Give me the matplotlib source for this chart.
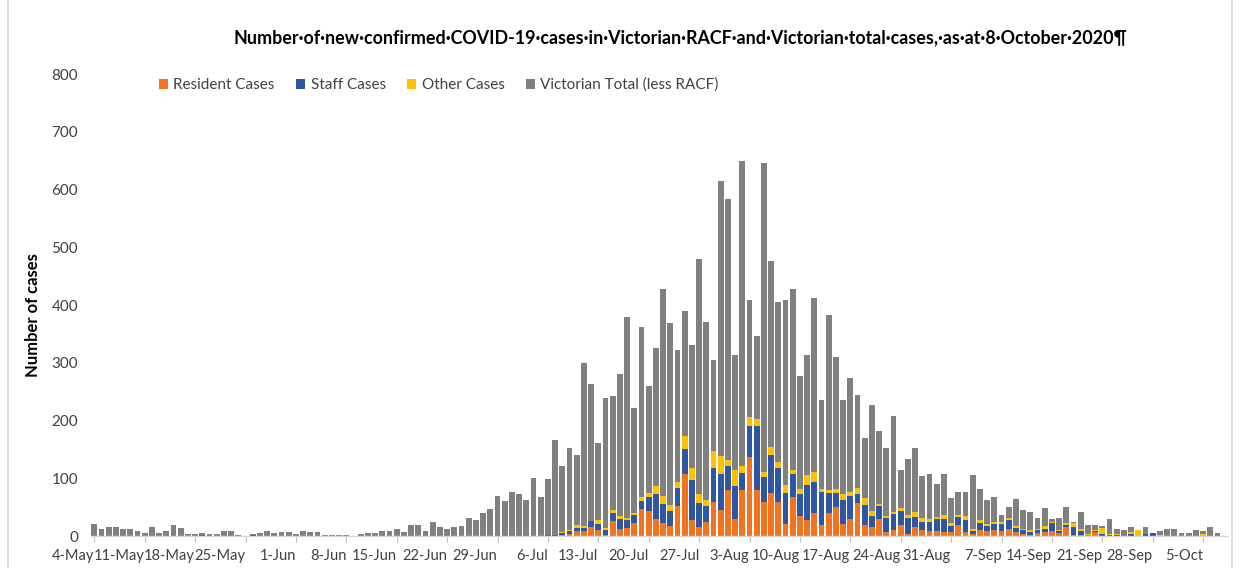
import numpy as np
import matplotlib
matplotlib.use("Agg")
import matplotlib.pyplot as plt
from matplotlib.patches import Patch
from matplotlib.lines import Line2D

plt.rcParams['font.family'] = ['Lato', 'DejaVu Sans']

# ---- data (4 May 2020 .. 8 Oct 2020, one value per day) ----
day_labels_shown = ["4-May", "11-May", "18-May", "25-May", "1-Jun", "8-Jun", "15-Jun",
                    "22-Jun", "29-Jun", "6-Jul", "13-Jul", "20-Jul", "27-Jul", "3-Aug",
                    "10-Aug", "17-Aug", "24-Aug", "31-Aug", "7-Sep", "14-Sep", "21-Sep",
                    "28-Sep", "5-Oct"]

resident_cases = [
    0, 0, 0, 0, 0, 0, 0,
    0, 0, 0, 0, 0, 0, 2,
    0, 0, 0, 0, 0, 0, 0,
    0, 0, 0, 0, 0, 0, 0,
    0, 0, 0, 0, 0, 0, 0,
    0, 0, 0, 0, 0, 0, 0,
    0, 0, 0, 1, 0, 0, 0,
    0, 0, 0, 0, 0, 0, 0,
    0, 0, 0, 0, 0, 0, 0,
    0, 0, 1, 4, 9, 9, 16,
    11, 2, 26, 12, 14, 23, 47,
    44, 30, 23, 17, 52, 108, 28,
    16, 25, 59, 45, 80, 30, 80,
    137, 80, 59, 74, 59, 20, 68,
    34, 28, 40, 19, 40, 50, 21,
    30, 57, 19, 16, 29, 7, 11,
    19, 4, 16, 10, 9, 9, 7,
    7, 19, 7, 4, 11, 8, 10,
    9, 13, 7, 4, 1, 5, 7,
    8, 5, 16, 1, 2, 1, 7,
    0, 0, 0, 0, 0, 0, 0,
    0, 0, 0, 0, 0, 0, 0,
    0, 0, 0, 0,
]

staff_cases = [
    0, 0, 0, 0, 0, 0, 0,
    0, 0, 0, 0, 0, 0, 0,
    0, 2, 0, 0, 0, 0, 0,
    0, 2, 0, 0, 0, 0, 0,
    0, 0, 0, 0, 0, 0, 0,
    0, 0, 0, 0, 0, 0, 0,
    0, 0, 0, 0, 0, 0, 0,
    0, 0, 0, 0, 0, 0, 0,
    0, 0, 0, 0, 0, 0, 0,
    2, 1, 4, 5, 5, 5, 10,
    10, 8, 14, 18, 14, 13, 14,
    24, 42, 32, 27, 32, 42, 69,
    42, 27, 58, 62, 42, 57, 29,
    53, 110, 43, 67, 59, 55, 40,
    39, 61, 53, 57, 34, 25, 42,
    39, 15, 35, 19, 23, 24, 27,
    25, 28, 17, 15, 16, 20, 23,
    10, 14, 20, 5, 12, 10, 10,
    12, 14, 7, 6, 6, 5, 6,
    14, 3, 3, 15, 7, 1, 1,
    4, 2, 1, 0, 3, 0, 3,
    5, 0, 0, 0, 0, 0, 0,
    0, 0, 0, 0,
]

other_cases = [
    0, 0, 0, 0, 0, 0, 0,
    0, 0, 0, 0, 0, 0, 0,
    0, 0, 0, 0, 0, 0, 0,
    0, 0, 0, 0, 0, 0, 0,
    0, 0, 0, 0, 0, 0, 0,
    0, 0, 0, 0, 0, 0, 0,
    0, 0, 0, 0, 0, 0, 0,
    0, 0, 0, 0, 0, 0, 0,
    0, 0, 0, 0, 0, 0, 0,
    0, 0, 2, 2, 5, 3, 0,
    7, 4, 5, 5, 4, 3, 7,
    7, 14, 14, 9, 10, 24, 20,
    14, 10, 30, 32, 9, 28, 12,
    16, 13, 9, 13, 10, 14, 7,
    9, 16, 17, 5, 6, 6, 9,
    7, 11, 12, 8, 3, 3, 4,
    4, 4, 9, 7, 5, 4, 6,
    6, 4, 7, 4, 5, 3, 4,
    4, 4, 3, 3, 3, 3, 4,
    3, 3, 4, 6, 4, 1, 3,
    10, 1, 2, 0, 4, 10, 0,
    0, 2, 0, 0, 0, 0, 0,
    4, 0, 0, 0,
]

victorian_total = [
    20, 13, 16, 15, 12, 12, 8,
    5, 16, 6, 9, 19, 14, 3,
    3, 6, 4, 4, 9, 9, 2,
    0, 4, 6, 9, 5, 7, 7,
    3, 9, 7, 7, 2, 2, 2,
    2, 0, 3, 5, 5, 8, 9,
    12, 7, 19, 19, 9, 25, 16,
    12, 16, 17, 32, 28, 39, 47,
    69, 61, 76, 72, 62, 100, 68,
    98, 166, 122, 153, 140, 300, 263,
    161, 239, 242, 280, 380, 221, 362,
    260, 326, 428, 369, 322, 390, 330,
    479, 370, 304, 614, 584, 313, 650,
    409, 347, 646, 476, 405, 408, 428,
    277, 314, 413, 235, 382, 310, 236,
    274, 245, 170, 227, 182, 152, 208,
    115, 133, 153, 104, 108, 90, 107,
    66, 77, 77, 106, 82, 63, 68,
    36, 51, 64, 45, 42, 31, 48,
    29, 32, 51, 25, 42, 19, 19,
    17, 30, 12, 10, 15, 10, 16,
    5, 8, 12, 12, 6, 6, 10,
    9, 15, 6, 0,
]

# ---- derived ----
res = np.array(resident_cases, dtype=float)
stf = np.array(staff_cases, dtype=float)
oth = np.array(other_cases, dtype=float)
tot = np.array(victorian_total, dtype=float)
rest = np.clip(tot - res - stf - oth, 0, None)
x = np.arange(len(tot))

C_RES = '#F47321'
C_STF = '#2E56A3'
C_OTH = '#FFC000'
C_VIC = '#808080'

fig = plt.figure(figsize=(12.39, 5.68), dpi=100)
ax = fig.add_axes([0.0732, 0.0563, 0.9182, 0.8134])

w = 0.8
ax.bar(x, res, width=w, color=C_RES, linewidth=0)
ax.bar(x, stf, width=w, bottom=res, color=C_STF, linewidth=0)
ax.bar(x, oth, width=w, bottom=res + stf, color=C_OTH, linewidth=0)
ax.bar(x, rest, width=w, bottom=res + stf + oth, color=C_VIC, linewidth=0)

ax.set_xlim(-0.5, len(tot) - 0.5)
ax.set_ylim(0, 800)
ax.set_yticks(np.arange(0, 801, 100))
ax.tick_params(axis='y', length=0, pad=9, labelsize=11, labelcolor='#404040')

tick_pos = np.arange(0, len(tot), 7)[:len(day_labels_shown)]
ax.set_xticks(tick_pos)
ax.set_xticklabels(day_labels_shown)
ax.tick_params(axis='x', length=4, width=0.8, color='#BFBFBF', pad=5,
               labelsize=10.5, labelcolor='#404040')
for lab in ax.get_xticklabels():
    lab.set_ha('right')

for s in ['top', 'right', 'left']:
    ax.spines[s].set_visible(False)
ax.spines['bottom'].set_color('#D9D9D9')
ax.spines['bottom'].set_linewidth(1.0)

fig.text(0.549, 0.933,
         "Number\u00b7of\u00b7new\u00b7confirmed\u00b7COVID-19\u00b7cases\u00b7in\u00b7Victorian\u00b7RACF\u00b7and\u00b7Victorian\u00b7total\u00b7cases,\u00b7as\u00b7at\u00b78\u00b7October\u00b72020\u00b6",
         ha='center', va='center', fontsize=12.9, fontweight='bold', color='#000000')

fig.text(0.027, 0.4454, "Number of cases", rotation=90, ha='center', va='center',
         fontsize=12, fontweight='bold', color='#000000')

handles = [Patch(facecolor=C_RES), Patch(facecolor=C_STF),
           Patch(facecolor=C_OTH), Patch(facecolor=C_VIC)]
labels = ["Resident Cases", "Staff Cases", "Other Cases", "Victorian Total (less RACF)"]
fig.legend(handles, labels, loc='center left', bbox_to_anchor=(145 / 1239, 1 - 85 / 568),
           ncol=4, frameon=False, fontsize=11, handlelength=0.6, handleheight=0.6,
           handletextpad=0.35, columnspacing=1.4, labelcolor='#404040')

for xf in (8 / 1239, 1232 / 1239):
    fig.add_artist(Line2D([xf, xf], [0, 1], transform=fig.transFigure, color='#D9D9D9', lw=1.2))

fig.savefig('out.png', dpi=100, facecolor='white')
